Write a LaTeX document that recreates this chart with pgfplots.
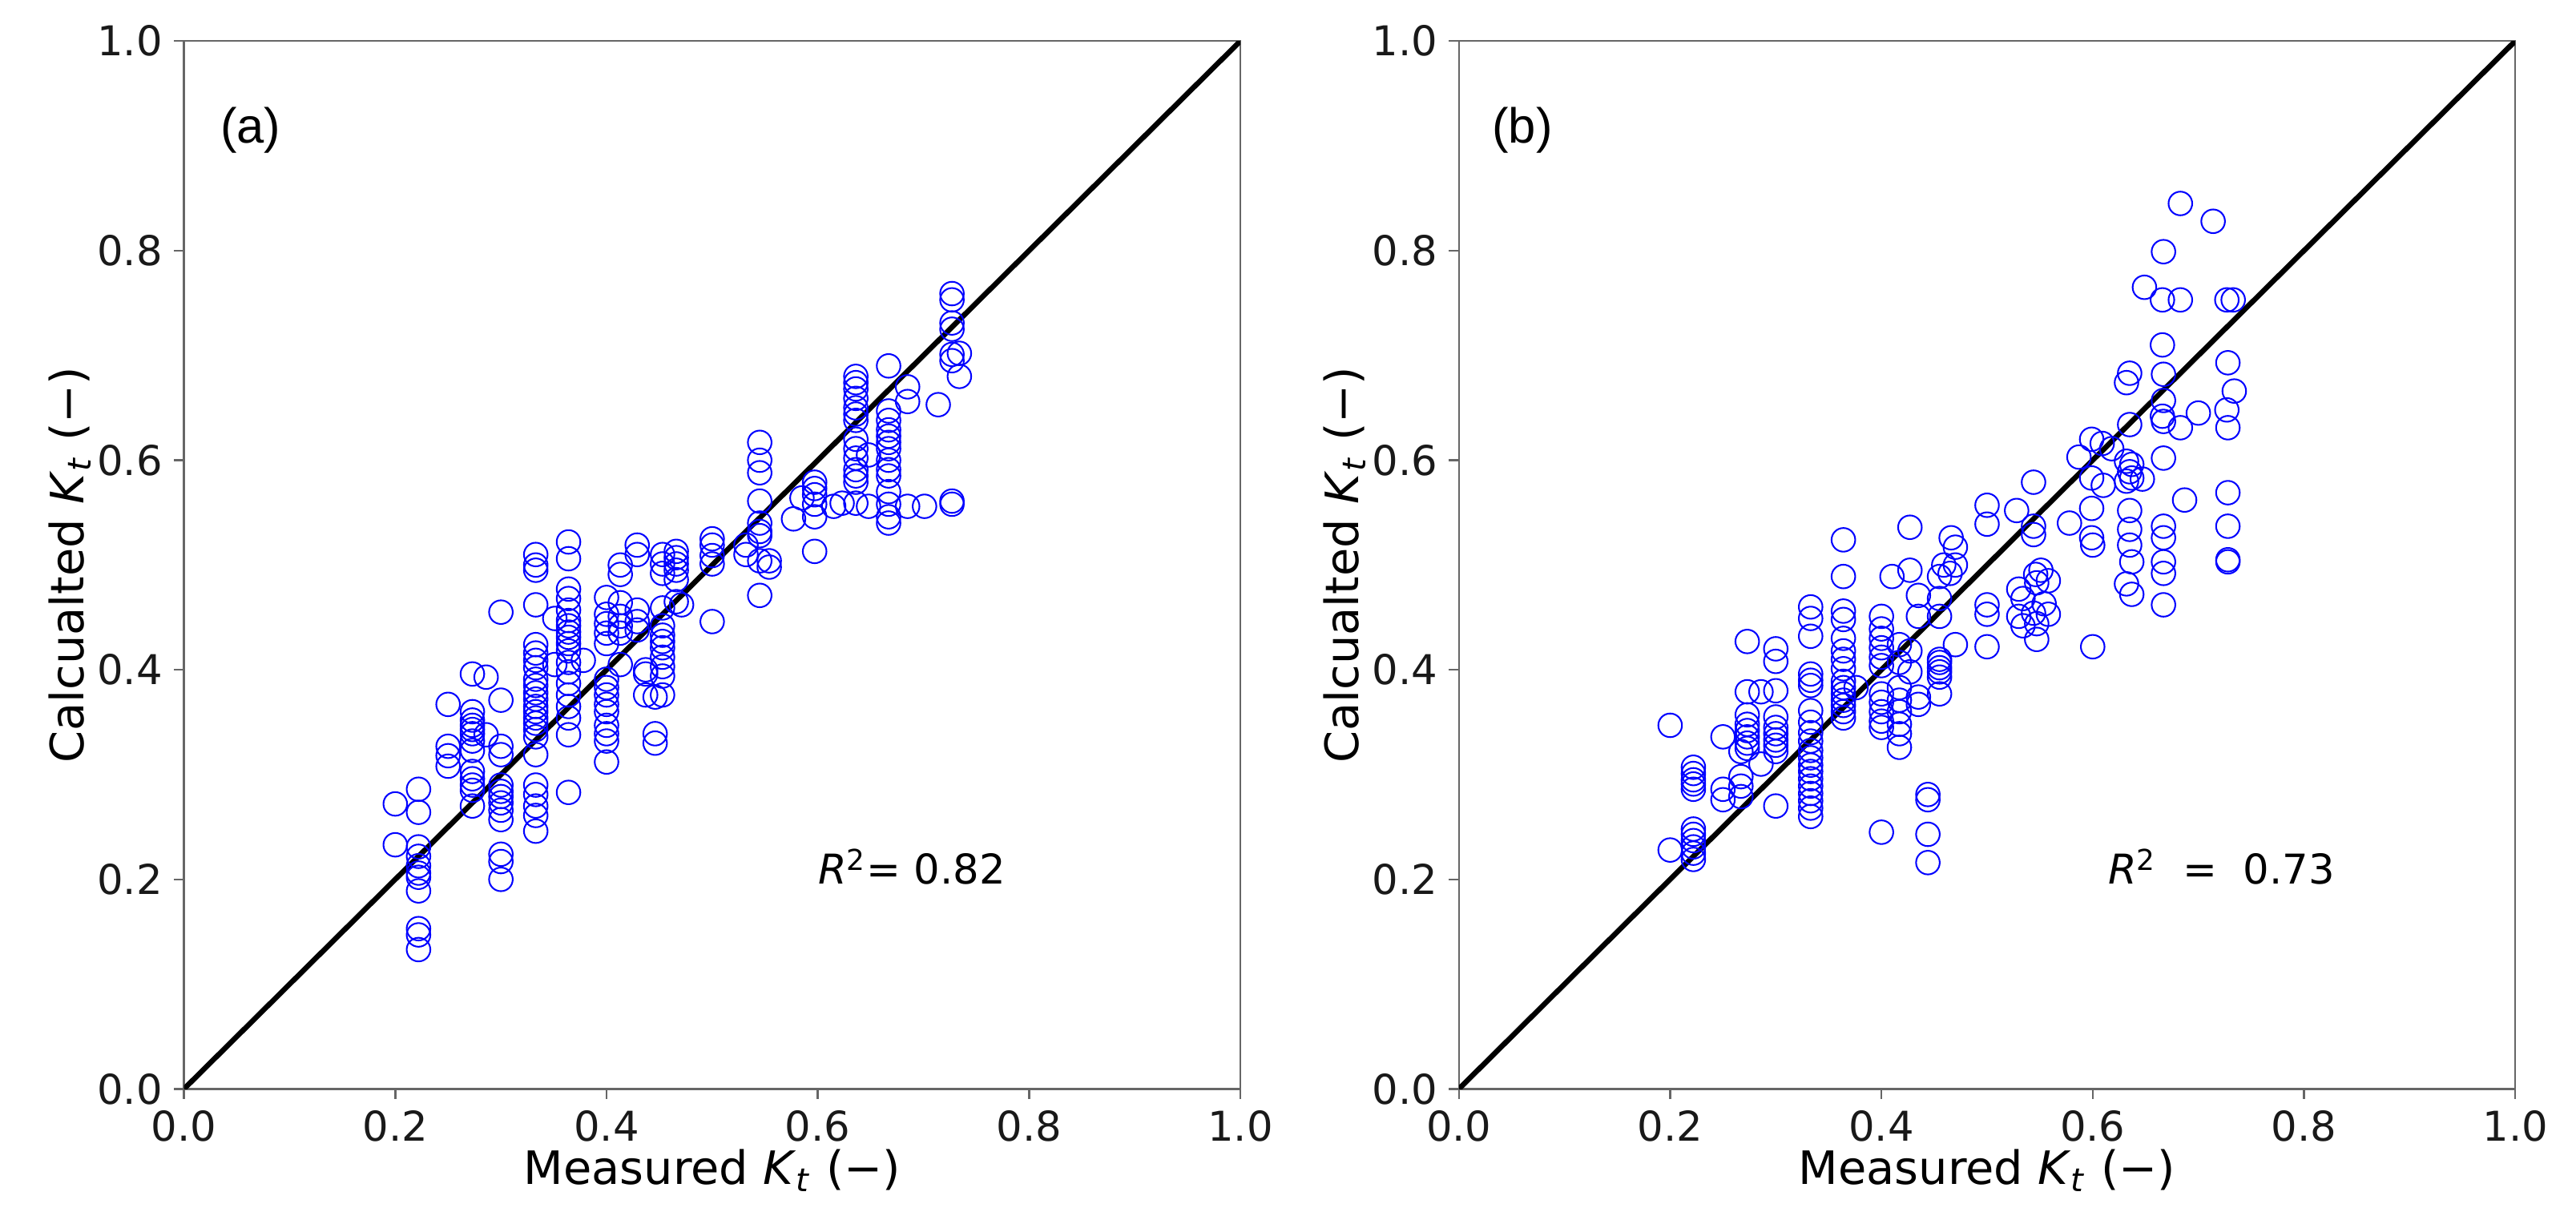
\documentclass[border=0pt]{standalone}
\usepackage{fontspec}
\setmainfont{DejaVu Sans}
\newfontfamily\arialfont{Liberation Sans}
\usepackage{pgfplots}
\usepackage{pgfplotstable}
\pgfplotsset{compat=1.18}

\definecolor{mplblue}{RGB}{0,0,255}

% panel (a): measured vs calculated Kt
\pgfplotstableread{
x y
0.200 0.272
0.200 0.233
0.222 0.286
0.222 0.264
0.222 0.231
0.222 0.222
0.222 0.213
0.222 0.206
0.222 0.202
0.222 0.189
0.222 0.153
0.222 0.147
0.222 0.133
0.250 0.367
0.250 0.327
0.250 0.318
0.250 0.308
0.273 0.396
0.273 0.360
0.273 0.352
0.273 0.347
0.273 0.343
0.273 0.339
0.273 0.332
0.273 0.323
0.273 0.303
0.273 0.296
0.273 0.290
0.273 0.285
0.273 0.270
0.286 0.393
0.286 0.338
0.300 0.455
0.300 0.371
0.300 0.327
0.300 0.319
0.300 0.290
0.300 0.284
0.300 0.279
0.300 0.273
0.300 0.266
0.300 0.257
0.300 0.224
0.300 0.217
0.300 0.200
0.333 0.510
0.333 0.500
0.333 0.495
0.333 0.462
0.333 0.424
0.333 0.416
0.333 0.409
0.333 0.402
0.333 0.391
0.333 0.385
0.333 0.378
0.333 0.372
0.333 0.365
0.333 0.360
0.333 0.354
0.333 0.349
0.333 0.343
0.333 0.336
0.333 0.319
0.333 0.290
0.333 0.281
0.333 0.270
0.333 0.261
0.333 0.246
0.351 0.449
0.351 0.405
0.364 0.522
0.364 0.506
0.364 0.477
0.364 0.468
0.364 0.457
0.364 0.447
0.364 0.442
0.364 0.436
0.364 0.431
0.364 0.425
0.364 0.418
0.364 0.407
0.364 0.398
0.364 0.387
0.364 0.376
0.364 0.365
0.364 0.354
0.364 0.338
0.364 0.283
0.378 0.409
0.400 0.469
0.400 0.453
0.400 0.444
0.400 0.435
0.400 0.425
0.400 0.391
0.400 0.383
0.400 0.376
0.400 0.367
0.400 0.360
0.400 0.347
0.400 0.339
0.400 0.332
0.400 0.312
0.413 0.500
0.413 0.491
0.413 0.464
0.413 0.451
0.413 0.442
0.413 0.435
0.413 0.405
0.429 0.519
0.429 0.510
0.429 0.457
0.429 0.446
0.429 0.438
0.437 0.400
0.437 0.396
0.437 0.376
0.446 0.374
0.446 0.339
0.446 0.330
0.453 0.510
0.453 0.501
0.453 0.492
0.453 0.459
0.453 0.442
0.453 0.433
0.453 0.427
0.453 0.421
0.453 0.412
0.453 0.403
0.453 0.394
0.453 0.376
0.466 0.513
0.466 0.507
0.466 0.501
0.466 0.495
0.466 0.486
0.466 0.465
0.471 0.462
0.500 0.525
0.500 0.519
0.500 0.509
0.500 0.501
0.500 0.446
0.532 0.519
0.532 0.510
0.545 0.617
0.545 0.600
0.545 0.588
0.545 0.561
0.545 0.540
0.545 0.532
0.545 0.528
0.545 0.504
0.545 0.471
0.554 0.504
0.554 0.498
0.577 0.544
0.585 0.564
0.597 0.579
0.597 0.573
0.597 0.567
0.597 0.558
0.597 0.546
0.597 0.513
0.615 0.556
0.623 0.559
0.636 0.680
0.636 0.674
0.636 0.668
0.636 0.659
0.636 0.650
0.636 0.644
0.636 0.638
0.636 0.620
0.636 0.611
0.636 0.602
0.636 0.591
0.636 0.585
0.636 0.579
0.636 0.559
0.648 0.605
0.648 0.556
0.667 0.690
0.667 0.647
0.667 0.638
0.667 0.629
0.667 0.623
0.667 0.617
0.667 0.611
0.667 0.600
0.667 0.591
0.667 0.585
0.667 0.570
0.667 0.558
0.667 0.546
0.667 0.540
0.685 0.670
0.685 0.656
0.685 0.556
0.701 0.556
0.714 0.653
0.727 0.759
0.727 0.753
0.727 0.731
0.727 0.725
0.727 0.701
0.727 0.695
0.727 0.561
0.727 0.558
0.734 0.702
0.734 0.680
}\dataA

% panel (b)
\pgfplotstableread{
x y
0.200 0.347
0.200 0.228
0.222 0.307
0.222 0.301
0.222 0.295
0.222 0.291
0.222 0.286
0.222 0.248
0.222 0.243
0.222 0.237
0.222 0.231
0.222 0.225
0.222 0.219
0.250 0.336
0.250 0.286
0.250 0.276
0.267 0.322
0.267 0.298
0.267 0.289
0.267 0.279
0.273 0.427
0.273 0.379
0.273 0.357
0.273 0.348
0.273 0.342
0.273 0.336
0.273 0.330
0.273 0.325
0.286 0.379
0.286 0.310
0.300 0.420
0.300 0.408
0.300 0.380
0.300 0.355
0.300 0.345
0.300 0.339
0.300 0.333
0.300 0.328
0.300 0.322
0.300 0.270
0.333 0.460
0.333 0.449
0.333 0.432
0.333 0.396
0.333 0.390
0.333 0.385
0.333 0.361
0.333 0.350
0.333 0.340
0.333 0.332
0.333 0.323
0.333 0.316
0.333 0.309
0.333 0.303
0.333 0.296
0.333 0.289
0.333 0.282
0.333 0.275
0.333 0.268
0.333 0.260
0.364 0.524
0.364 0.489
0.364 0.456
0.364 0.448
0.364 0.430
0.364 0.418
0.364 0.410
0.364 0.401
0.364 0.389
0.364 0.383
0.364 0.377
0.364 0.371
0.364 0.366
0.364 0.360
0.364 0.354
0.376 0.383
0.400 0.451
0.400 0.439
0.400 0.430
0.400 0.421
0.400 0.412
0.400 0.404
0.400 0.377
0.400 0.369
0.400 0.360
0.400 0.351
0.400 0.345
0.400 0.245
0.410 0.489
0.417 0.424
0.417 0.407
0.417 0.383
0.417 0.371
0.417 0.360
0.417 0.348
0.417 0.339
0.417 0.326
0.427 0.536
0.427 0.495
0.427 0.418
0.427 0.398
0.435 0.471
0.435 0.451
0.435 0.374
0.435 0.367
0.444 0.281
0.444 0.276
0.444 0.243
0.444 0.216
0.455 0.489
0.455 0.468
0.455 0.451
0.455 0.410
0.455 0.407
0.455 0.402
0.455 0.398
0.455 0.393
0.455 0.377
0.465 0.492
0.470 0.517
0.470 0.424
0.466 0.526
0.470 0.500
0.459 0.500
0.500 0.557
0.500 0.539
0.500 0.462
0.500 0.453
0.500 0.422
0.528 0.552
0.530 0.477
0.530 0.451
0.534 0.468
0.534 0.442
0.544 0.579
0.544 0.537
0.544 0.529
0.546 0.491
0.544 0.454
0.547 0.483
0.547 0.444
0.547 0.429
0.551 0.495
0.554 0.463
0.558 0.485
0.558 0.453
0.578 0.540
0.587 0.603
0.599 0.620
0.599 0.583
0.599 0.554
0.599 0.526
0.600 0.519
0.600 0.422
0.609 0.616
0.610 0.576
0.618 0.611
0.632 0.674
0.635 0.683
0.635 0.634
0.632 0.599
0.637 0.596
0.635 0.589
0.637 0.583
0.632 0.580
0.647 0.582
0.635 0.552
0.635 0.534
0.635 0.519
0.637 0.503
0.632 0.482
0.637 0.472
0.649 0.765
0.667 0.799
0.666 0.753
0.666 0.710
0.667 0.682
0.667 0.657
0.666 0.642
0.667 0.637
0.667 0.602
0.667 0.537
0.667 0.526
0.667 0.503
0.667 0.492
0.667 0.462
0.683 0.845
0.683 0.753
0.683 0.631
0.687 0.562
0.700 0.645
0.714 0.828
0.727 0.753
0.733 0.753
0.728 0.693
0.734 0.666
0.727 0.648
0.728 0.631
0.728 0.569
0.728 0.537
0.728 0.505
0.728 0.503
}\dataB

\pgfplotsset{
  ktpanel/.style={
    scale only axis,
    width=321.5pt, height=319pt,
    xmin=0, xmax=1, ymin=0, ymax=1,
    xtick={0,0.2,0.4,0.6,0.8,1.0},
    ytick={0,0.2,0.4,0.6,0.8,1.0},
    xtick pos=lower, ytick pos=left,
    tick align=outside,
    major tick length=3pt,
    axis line style={black!60, line width=0.6pt},
    every tick/.style={black!60, line width=0.6pt},
    /pgf/number format/assume math mode=true,
    /pgf/number format/fixed,
    /pgf/number format/fixed zerofill,
    /pgf/number format/precision=1,
    tick label style={font=\fontsize{12.5}{15}\selectfont, black!90},
    label style={font=\fontsize{14}{17}\selectfont},
    xlabel style={at={(axis description cs:0.5,-0.078)}, anchor=center},
    ylabel style={at={(axis description cs:-0.108,0.5)}, anchor=center},
    xlabel={Measured \textit{K}\textsubscript{\textit{t}} (−)},
    ylabel={Calcualted \textit{K}\textsubscript{\textit{t}} (−)},
  },
  scat/.style={only marks, mark=o, mark size=3.6pt, mplblue,
    mark options={line width=0.5pt}},
}

\begin{document}
\begin{tikzpicture}
\useasboundingbox (0,0) rectangle (784pt,375pt);

\begin{axis}[ktpanel, at={(56pt,43.5pt)}, anchor=south west]
  \addplot[scat] table[x=x, y=y] {\dataA};
  \addplot[black, line width=1.6pt] coordinates {(0,0) (1,1)};
  \node[font=\fontsize{12.5}{15}\selectfont, anchor=center] at (axis cs:0.689,0.212) {\textit{R}\textsuperscript{2}= 0.82};
  \node[font=\arialfont\fontsize{15}{18}\selectfont, anchor=west, inner sep=0pt] at (axis cs:0.034,0.915) {(a)};
\end{axis}

\begin{axis}[ktpanel, at={(444pt,43.5pt)}, anchor=south west]
  \addplot[scat] table[x=x, y=y] {\dataB};
  \addplot[black, line width=1.6pt] coordinates {(0,0) (1,1)};
  \node[font=\fontsize{12.5}{15}\selectfont, anchor=center] at (axis cs:0.722,0.212) {\textit{R}\textsuperscript{2} \ = \ 0.73};
  \node[font=\arialfont\fontsize{15}{18}\selectfont, anchor=west, inner sep=0pt] at (axis cs:0.031,0.915) {(b)};
\end{axis}
\end{tikzpicture}
\end{document}
